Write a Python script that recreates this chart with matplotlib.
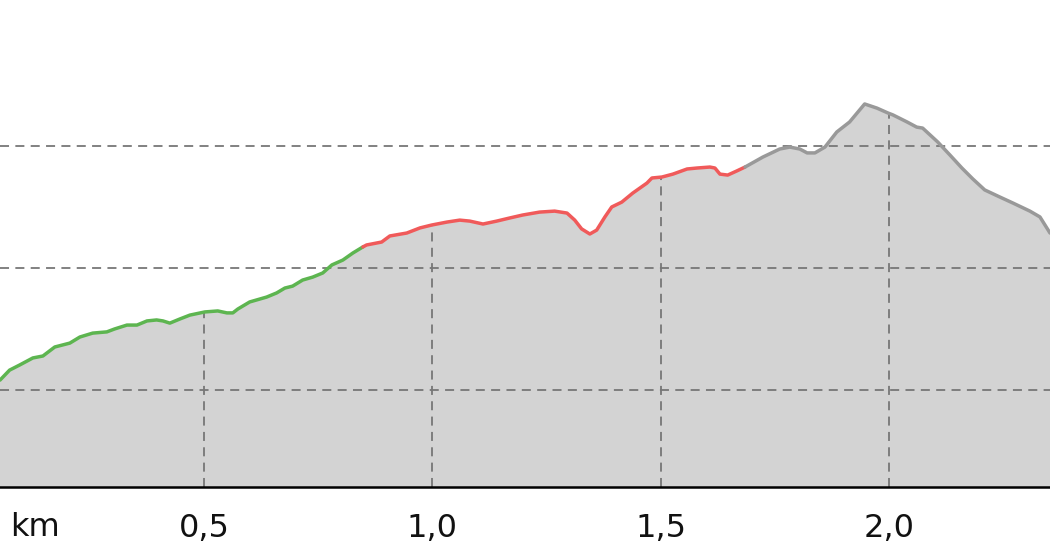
import matplotlib
matplotlib.use("Agg")
import matplotlib.pyplot as plt
import numpy as np

# Distance (km) and elevation (m) per section of the profile
green_km = [0.053, 0.074, 0.096, 0.125, 0.147, 0.173, 0.206, 0.228, 0.256, 0.287,
            0.304, 0.331, 0.353, 0.375, 0.396, 0.410, 0.425, 0.447, 0.469, 0.502,
            0.530, 0.550, 0.563, 0.574, 0.600, 0.637, 0.659, 0.677, 0.694, 0.716,
            0.738, 0.760, 0.780, 0.804, 0.826, 0.848]
green_ele = [203.9, 208.0, 210.1, 213.0, 213.8, 217.5, 219.1, 221.6, 223.2, 223.7,
             224.9, 226.5, 226.5, 228.2, 228.6, 228.2, 227.3, 229.0, 230.6, 231.9,
             232.3, 231.5, 231.5, 233.1, 236.0, 238.0, 239.7, 241.7, 242.5, 245.0,
             246.2, 247.9, 251.2, 253.2, 256.1, 258.6]

red_km = [0.848, 0.856, 0.889, 0.907, 0.944, 0.973, 0.999, 1.032, 1.060, 1.082,
          1.111, 1.141, 1.170, 1.198, 1.235, 1.268, 1.295, 1.312, 1.327, 1.345,
          1.360, 1.378, 1.393, 1.415, 1.439, 1.470, 1.481, 1.503, 1.527, 1.558,
          1.580, 1.608, 1.619, 1.630, 1.647, 1.667, 1.685]
red_ele = [258.6, 259.4, 260.6, 263.1, 264.3, 266.4, 267.6, 268.8, 269.6, 269.2,
           268.0, 269.2, 270.5, 271.7, 272.9, 273.3, 272.5, 269.6, 266.0, 263.9,
           265.5, 270.9, 275.0, 277.0, 280.7, 284.8, 286.9, 287.3, 288.5, 290.6,
           291.0, 291.4, 291.0, 288.5, 288.1, 289.8, 291.4]

gray_km = [1.685, 1.724, 1.761, 1.783, 1.805, 1.821, 1.838, 1.860, 1.886, 1.914,
           1.947, 1.974, 1.998, 2.009, 2.040, 2.061, 2.074, 2.107, 2.134, 2.160,
           2.184, 2.210, 2.243, 2.272, 2.309, 2.331, 2.353]
gray_ele = [291.4, 295.5, 298.8, 299.6, 298.8, 297.2, 297.2, 299.6, 305.8, 309.9,
            317.3, 315.6, 313.6, 312.8, 309.9, 307.8, 307.4, 301.7, 296.3, 291.0,
            286.5, 282.0, 279.1, 276.6, 273.3, 270.9, 264.3]

x_ticks = [0.5, 1.0, 1.5, 2.0]
x_tick_labels = ["0,5", "1,0", "1,5", "2,0"]
y_grid = [200, 250, 300]

fig = plt.figure(figsize=(10.5, 5.6), dpi=100)
ax = fig.add_axes([0, 1 - 487 / 560, 1, 487 / 560])
ax.set_xlim(0.053, 2.353)
ax.set_ylim(160, 360)

all_km = np.array(green_km + red_km[1:] + gray_km[1:])
all_ele = np.array(green_ele + red_ele[1:] + gray_ele[1:])

ax.fill_between(all_km, all_ele, 160, color="#d3d3d3", lw=0, zorder=1)

grid_kw = dict(color="#777777", lw=1.3, ls=(0, (5, 3.5)), zorder=2)
for gy in y_grid:
    ax.axhline(gy, **grid_kw)
ax.vlines(x_ticks, 160, np.interp(x_ticks, all_km, all_ele), **grid_kw)

ax.plot(green_km, green_ele, color="#5db550", lw=2.5, zorder=3, solid_capstyle="round")
ax.plot(red_km, red_ele, color="#f05a5a", lw=2.5, zorder=3, solid_capstyle="round")
ax.plot(gray_km, gray_ele, color="#999999", lw=2.5, zorder=3, solid_capstyle="round")

for s in ["top", "left", "right"]:
    ax.spines[s].set_visible(False)
ax.spines["bottom"].set_color("black")
ax.spines["bottom"].set_linewidth(1.8)
ax.spines["bottom"].set_zorder(4)

ax.set_yticks([])
ax.set_xticks(x_ticks)
ax.set_xticklabels(x_tick_labels, fontsize=23, family="DejaVu Sans", color="#111111")
ax.tick_params(axis="x", length=0, pad=19)

fig.text(35 / 1050, 1 - 527 / 560, "km", fontsize=23, family="DejaVu Sans",
         color="#111111", ha="center", va="center")

fig.savefig("out.png", dpi=100)
